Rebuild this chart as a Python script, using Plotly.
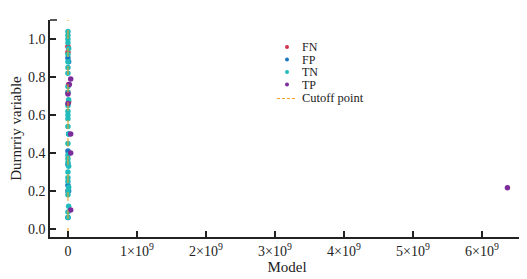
import plotly.graph_objects as go

# Data (x in model units, y dummy variable)
fn_x = [0, 1e7, 0, 1e7, 0, 0]
fn_y = [0.20, 0.67, 0.72, 0.76, 0.93, 0.96]
fp_x = [0, 1e7, 0, 0, 1e7, 1e7, 0, 0]
fp_y = [0.06, 0.20, 0.23, 0.41, 0.50, 0.88, 0.90, 0.34]
tn_x = [0, 0, 1e7, 0, 0, 1e7, 0, 0, 0, 1e7, 0, 0,
        0, 0, 1e7, 0, 0, 0, 0, 0, 1e7, 0, 0, 0,
        0, 0, 0, 1e7, 0, 0, 0, 0]
tn_y = [0.06, 0.09, 0.12, 0.18, 0.20, 0.22, 0.25, 0.27, 0.30, 0.33, 0.35, 0.37,
        0.39, 0.45, 0.50, 0.54, 0.58, 0.60, 0.62, 0.65, 0.68, 0.72, 0.75, 0.82,
        0.85, 0.88, 0.92, 0.95, 0.98, 1.00, 1.02, 1.04]
tp_x = [4e7, 4e7, 4e7, 0, 0, 2e7, 4e7, 6.37e9]
tp_y = [0.10, 0.40, 0.50, 0.66, 0.71, 0.76, 0.79, 0.217]
cutoff_x = [0, 0]
cutoff_y = [-0.042, 1.1]

tick_vals = [0, 1e9, 2e9, 3e9, 4e9, 5e9, 6e9]
tick_text = ["0", "1×10<sup>9</sup>", "2×10<sup>9</sup>", "3×10<sup>9</sup>",
             "4×10<sup>9</sup>", "5×10<sup>9</sup>", "6×10<sup>9</sup>"]
y_vals = [0, 0.2, 0.4, 0.6, 0.8, 1.0]
y_text = ["0.0", "0.2", "0.4", "0.6", "0.8", "1.0"]

series = [("FN", fn_x, fn_y, "#d1344e"),
          ("FP", fp_x, fp_y, "#1a78c2"),
          ("TN", tn_x, tn_y, "#22bcbc"),
          ("TP", tp_x, tp_y, "#7d2c9c")]
cut_color = "#f2a21c"
ink = "#222222"
FONT = "Liberation Serif, Times New Roman, serif"

fig = go.Figure()
for name, xs, ys, col in series:
    fig.add_trace(go.Scatter(x=xs, y=ys, mode="markers", name=name, showlegend=False,
                             marker=dict(color=col, size=5.5)))
fig.add_trace(go.Scatter(x=cutoff_x, y=cutoff_y, mode="lines", name="Cutoff point",
                         line=dict(color=cut_color, width=1.2, dash="dash"),
                         opacity=0.85, showlegend=False))

# The page body has an 8px margin: canvas is offset by (8, 8) in the window.
OFF = 8
W, H = 527 - OFF, 279 - OFF
L, R, T, B = 50 - OFF, 3, 20 - OFF, 42
pw, ph = W - L - R, H - T - B
def px(xw):          # window pixel x -> paper
    return (xw - OFF - L) / pw
def py(yw):          # window pixel y -> paper
    return (H - B - (yw - OFF)) / ph

shapes = []
annotations = []
legend_rows = [47, 59.5, 72, 84.5]
for (name, _, _, col), yr in zip(series, legend_rows):
    shapes.append(dict(type="circle", xref="paper", yref="paper",
                       x0=px(285), x1=px(289), y0=py(yr + 2), y1=py(yr - 2),
                       fillcolor=col, line=dict(width=0)))
    annotations.append(dict(text=name, xref="paper", yref="paper", x=px(300), y=py(yr),
                            xanchor="left", yanchor="middle", showarrow=False,
                            font=dict(size=12, family=FONT, color=ink)))
shapes.append(dict(type="line", xref="paper", yref="paper",
                   x0=px(277), x1=px(296), y0=py(98.5), y1=py(98.5),
                   line=dict(color=cut_color, width=1.2, dash="3px,2px")))
annotations.append(dict(text="Cutoff point", xref="paper", yref="paper", x=px(300), y=py(98),
                        xanchor="left", yanchor="middle", showarrow=False,
                        font=dict(size=12.5, family=FONT, color=ink)))
# axis end ticks
shapes.append(dict(type="line", xref="paper", yref="paper", x0=0, x1=px(57),
                   y0=1, y1=1, line=dict(color=ink, width=1.5)))
shapes.append(dict(type="line", xref="paper", yref="paper", x0=1, x1=1,
                   y0=0, y1=py(231), line=dict(color=ink, width=1.5)))

fig.update_layout(
    width=W, height=H,
    margin=dict(l=L, r=R, t=T, b=B),
    paper_bgcolor="white", plot_bgcolor="white",
    font=dict(family=FONT, size=14, color=ink),
    showlegend=False,
    shapes=shapes, annotations=annotations,
    xaxis=dict(range=[-0.26e9, 6.61e9], tickvals=tick_vals, ticktext=tick_text,
               ticks="inside", ticklen=6, tickwidth=1.5, tickcolor=ink,
               showline=True, linecolor=ink, linewidth=1.5, automargin=False,
               showgrid=False, zeroline=False, tickfont=dict(size=14),
               title=dict(text="Model", standoff=0, font=dict(size=15))),
    yaxis=dict(range=[-0.042, 1.1], tickvals=y_vals, ticktext=y_text,
               ticks="inside", ticklen=6, tickwidth=1.5, tickcolor=ink,
               showline=True, linecolor=ink, linewidth=1.5, automargin=False,
               showgrid=False, zeroline=False, tickfont=dict(size=14),
               title=dict(text="Durnrriy variable", standoff=4, font=dict(size=15))),
)

fig.write_html("out.html")
